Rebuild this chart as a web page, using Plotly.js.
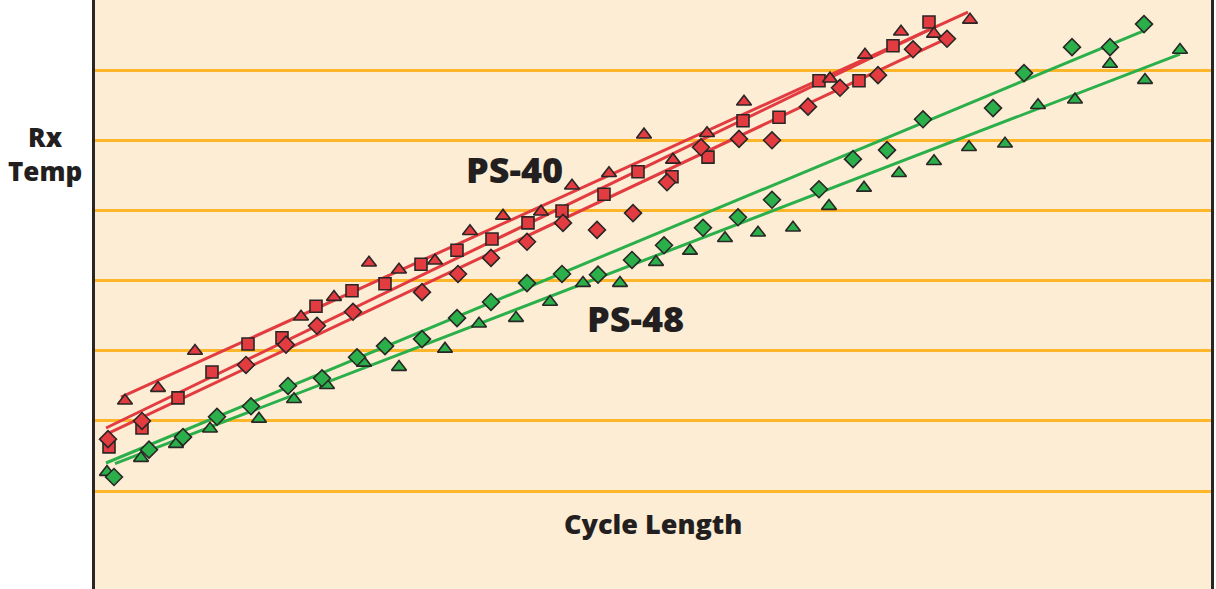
<!DOCTYPE html>
<html>
<head>
<meta charset="utf-8">
<script src="https://cdn.plot.ly/plotly-3.0.1.min.js"></script>
<style>
  html, body { margin: 0; padding: 0; background: #ffffff; }
  #chart { width: 1216px; height: 589px; }
</style>
</head>
<body>
<div id="chart"></div>
<script>
// ---- Data (Cycle Length vs Rx Temp, arbitrary units) ----
const ps40TriX = [3.0, 6.3, 10.0, 20.6, 23.9, 27.4, 30.4, 34.0, 37.5, 40.8, 44.6, 47.7, 51.4, 54.9, 57.8, 61.2, 64.9, 73.5, 77.0, 80.6, 83.9, 87.5];
const ps40TriY = [12.9, 14.7, 20.0, 24.9, 27.7, 32.6, 31.6, 32.9, 37.1, 39.3, 39.9, 43.6, 45.4, 50.9, 47.3, 51.1, 55.6, 58.9, 62.3, 65.6, 65.3, 67.3];

const ps40SqX = [1.4, 4.7, 8.3, 11.7, 15.3, 18.7, 22.1, 25.7, 29.0, 32.6, 36.2, 39.7, 43.3, 46.7, 50.9, 54.3, 57.7, 61.3, 64.8, 68.4, 72.4, 76.4, 79.8, 83.4];
const ps40SqY = [6.3, 9.0, 13.3, 17.0, 21.0, 21.9, 26.4, 28.6, 29.6, 32.4, 34.4, 36.0, 38.3, 40.0, 42.4, 45.6, 44.9, 47.7, 52.9, 53.4, 58.6, 58.6, 63.6, 67.0];

const ps40DiaX = [1.3, 4.7, 15.1, 19.1, 22.2, 25.8, 32.7, 36.3, 39.6, 43.2, 46.8, 50.2, 53.8, 57.2, 60.6, 64.4, 67.7, 71.3, 74.5, 78.3, 81.8, 85.2];
const ps40DiaY = [7.4, 10.0, 18.0, 20.9, 23.6, 25.6, 28.4, 31.0, 33.3, 35.6, 38.3, 37.3, 39.7, 44.1, 49.1, 50.3, 50.1, 54.9, 57.6, 59.4, 63.1, 64.6];

const ps48DiaX = [1.9, 5.4, 8.8, 12.2, 15.6, 19.3, 22.7, 26.2, 29.0, 32.7, 36.2, 39.6, 43.2, 46.7, 50.3, 53.7, 56.9, 60.8, 64.3, 67.7, 72.4, 75.8, 79.2, 82.8, 89.8, 92.9, 97.7, 101.5, 104.9];
const ps48DiaY = [2.0, 5.9, 7.7, 10.6, 12.1, 15.0, 16.1, 19.1, 20.7, 21.7, 24.7, 27.0, 29.7, 31.0, 30.9, 33.0, 35.1, 37.6, 39.1, 41.6, 43.1, 47.4, 48.7, 53.1, 54.7, 59.7, 63.4, 63.4, 66.7];

const ps48TriX = [1.2, 4.6, 8.1, 11.5, 16.4, 19.9, 23.2, 26.9, 30.4, 35.0, 38.4, 42.1, 45.5, 48.8, 52.5, 56.1, 59.5, 63.0, 66.3, 69.8, 73.4, 76.9, 80.4, 83.9, 87.4, 91.0, 94.3, 98.0, 101.5, 105.0, 108.5];
const ps48TriY = [2.7, 4.7, 6.7, 8.9, 10.3, 13.1, 15.1, 18.3, 17.7, 20.3, 23.9, 24.7, 27.0, 29.7, 29.7, 32.7, 34.3, 36.1, 36.9, 37.6, 40.7, 43.3, 45.4, 47.1, 49.1, 49.6, 55.1, 55.9, 61.0, 58.7, 63.0];

// Trend lines (end points)
const ps40TriLineX = [2.6, 87.3];
const ps40TriLineY = [13.4, 68.4];
const ps40SqLineX = [1.1, 84.0];
const ps40SqLineY = [9.0, 66.3];
const ps40DiaLineX = [1.1, 85.1];
const ps40DiaLineY = [8.1, 64.6];
const ps48DiaLineX = [1.1, 104.8];
const ps48DiaLineY = [4.0, 65.7];
const ps48TriLineX = [2.0, 108.5];
const ps48TriLineY = [3.9, 62.4];

// Horizontal reference levels (grid)
const gridLevels = [0, 10, 20, 30, 40, 50, 60, 70];

// Text
const seriesLabels = ["PS-40", "PS-48"];
const xTitle = "Cycle Length";
const yTitle = "Rx<br>Temp";

// ---- Styles ----
const RED = '#E23C40';
const GREEN = '#2BAF4A';
const EDGE = '#2a2626';

function lineTrace(x, y, color) {
  return { x: x, y: y, type: 'scatter', mode: 'lines', line: { color: color, width: 3 }, hoverinfo: 'skip', showlegend: false };
}
function markerTrace(x, y, color, symbol, size) {
  return { x: x, y: y, type: 'scatter', mode: 'markers',
    marker: { color: color, symbol: symbol, size: size, line: { color: EDGE, width: 1.6 } }, showlegend: false };
}

const traces = [
  lineTrace(ps40TriLineX, ps40TriLineY, RED),
  lineTrace(ps40SqLineX, ps40SqLineY, RED),
  lineTrace(ps40DiaLineX, ps40DiaLineY, RED),
  lineTrace(ps48DiaLineX, ps48DiaLineY, GREEN),
  lineTrace(ps48TriLineX, ps48TriLineY, GREEN),
  markerTrace(ps40SqX, ps40SqY, RED, 'square', 12),
  markerTrace(ps40TriX, ps40TriY, RED, 'triangle-up', 13),
  markerTrace(ps40DiaX, ps40DiaY, RED, 'diamond', 13),
  markerTrace(ps48TriX, ps48TriY, GREEN, 'triangle-up', 13),
  markerTrace(ps48DiaX, ps48DiaY, GREEN, 'diamond', 13)
];

const FONT = 'Open Sans, Lato, DejaVu Sans, sans-serif';
const TXT = '#231f20';

const layout = {
  width: 1216, height: 589,
  margin: { l: 95, r: 5, t: 0, b: 0, pad: 0 },
  paper_bgcolor: '#ffffff',
  plot_bgcolor: '#FDEDD5',
  showlegend: false,
  xaxis: { range: [0, 111.6], showgrid: false, zeroline: false, showticklabels: false, ticks: '', showline: false, fixedrange: true },
  yaxis: { range: [-14, 70.14], tickmode: 'array', tickvals: gridLevels, showgrid: true, gridcolor: '#FDB62A', gridwidth: 3,
           zeroline: false, showticklabels: false, ticks: '', showline: true, mirror: true, linecolor: '#2a2626', linewidth: 3, fixedrange: true },
  annotations: [
    { x: 41.9, y: 45.9, xref: 'x', yref: 'y', text: seriesLabels[0], showarrow: false,
      font: { family: FONT, size: 36, color: TXT, weight: 800 }, xanchor: 'center', yanchor: 'middle' },
    { x: 54.0, y: 24.7, xref: 'x', yref: 'y', text: seriesLabels[1], showarrow: false,
      font: { family: FONT, size: 36, color: TXT, weight: 800 }, xanchor: 'center', yanchor: 'middle' },
    { x: 55.8, y: -4.6, xref: 'x', yref: 'y', text: xTitle, showarrow: false,
      font: { family: FONT, size: 27, color: TXT, weight: 800 }, xanchor: 'center', yanchor: 'middle' },
    { x: -50 / 1116, y: 1 - 154 / 589, xref: 'paper', yref: 'paper', text: yTitle, showarrow: false,
      font: { family: FONT, size: 26, color: TXT, weight: 800 }, xanchor: 'center', yanchor: 'middle', align: 'center' }
  ]
};

Plotly.newPlot('chart', traces, layout, { displayModeBar: false, staticPlot: true });
</script>
</body>
</html>
